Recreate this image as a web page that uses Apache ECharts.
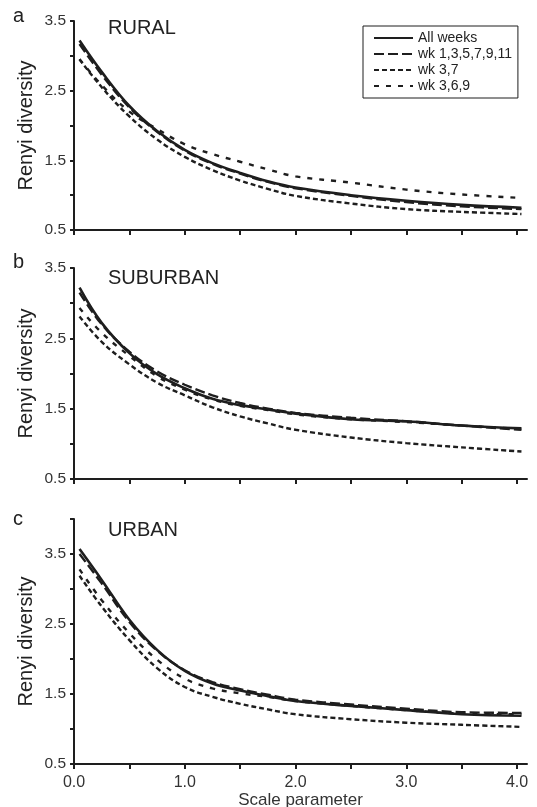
<!DOCTYPE html>
<html>
<head>
<meta charset="utf-8">
<script src="https://cdn.jsdelivr.net/npm/echarts@6/dist/echarts.min.js"></script>
<style>
  html, body { margin: 0; padding: 0; background: #fff; }
  #chart { width: 537px; height: 807px; }
</style>
</head>
<body>
<div id="chart"></div>
<script>
// scale parameter values (x)
const scaleParam = [0.05, 0.25, 0.5, 0.75, 1.0, 1.25, 1.5, 1.75, 2.0, 2.5, 3.0, 3.5, 4.04];

// RURAL
const ruralAll   = [3.22, 2.77, 2.28, 1.92, 1.65, 1.46, 1.32, 1.20, 1.11, 1.00, 0.92, 0.86, 0.82];
const ruralOdd   = [3.17, 2.73, 2.26, 1.91, 1.64, 1.45, 1.31, 1.19, 1.10, 0.99, 0.90, 0.84, 0.80];
const rural37    = [2.95, 2.55, 2.13, 1.80, 1.55, 1.36, 1.21, 1.09, 0.99, 0.88, 0.80, 0.76, 0.73];
const rural369   = [2.95, 2.58, 2.20, 1.95, 1.73, 1.59, 1.48, 1.37, 1.27, 1.18, 1.08, 1.01, 0.96];

// SUBURBAN
const suburbAll  = [3.22, 2.72, 2.29, 1.99, 1.79, 1.64, 1.55, 1.49, 1.43, 1.35, 1.32, 1.26, 1.22];
const suburbOdd  = [3.15, 2.70, 2.31, 2.03, 1.84, 1.69, 1.58, 1.50, 1.44, 1.37, 1.32, 1.26, 1.20];
const suburb37   = [2.81, 2.45, 2.13, 1.87, 1.69, 1.52, 1.39, 1.29, 1.20, 1.09, 1.01, 0.95, 0.89];
const suburb369  = [2.93, 2.58, 2.25, 1.96, 1.77, 1.63, 1.54, 1.48, 1.42, 1.35, 1.31, 1.26, 1.21];

// URBAN
const urbanAll   = [3.57, 3.13, 2.56, 2.13, 1.83, 1.65, 1.55, 1.47, 1.40, 1.33, 1.27, 1.21, 1.19];
const urbanOdd   = [3.50, 3.08, 2.53, 2.12, 1.84, 1.67, 1.57, 1.49, 1.42, 1.35, 1.29, 1.24, 1.23];
const urban37    = [3.19, 2.75, 2.27, 1.87, 1.60, 1.46, 1.36, 1.28, 1.21, 1.14, 1.09, 1.06, 1.03];
const urban369   = [3.28, 2.84, 2.37, 1.99, 1.72, 1.58, 1.51, 1.46, 1.40, 1.33, 1.27, 1.22, 1.21];

const seriesNames = ['All weeks', 'wk 1,3,5,7,9,11', 'wk 3,7', 'wk 3,6,9'];
const panelTitles = ['RURAL', 'SUBURBAN', 'URBAN'];
const panelLetters = ['a', 'b', 'c'];
const xTicks = [0, 0.5, 1, 1.5, 2, 2.5, 3, 3.5, 4];
const xLabels = [0, 1, 2, 3, 4];
const yLabels = [0.5, 1.5, 2.5, 3.5];
const yMax = [3.5, 3.5, 4.0];

const panels = [
  [ruralAll, ruralOdd, rural37, rural369],
  [suburbAll, suburbOdd, suburb37, suburb369],
  [urbanAll, urbanOdd, urban37, urban369]
];

const ink = '#1e1e1e';
const font = 'Liberation Sans, Arial, sans-serif';
// 每条线的样式
const lineTypes = ['solid', [10, 4], [5, 3], [5, 7]];

const grids = [
  { left: 74, top: 21, width: 453, height: 209 },
  { left: 74, top: 268, width: 453, height: 211 },
  { left: 74, top: 519, width: 453, height: 245 }
].map(g => Object.assign({ outerBoundsMode: 'none', containLabel: false }, g));

const xAxes = grids.map((g, i) => ({
  type: 'value',
  gridIndex: i,
  min: 0,
  max: 4.09,
  name: i === 2 ? 'Scale parameter' : '',
  nameLocation: 'middle',
  nameGap: 28,
  nameMoveOverlap: false,
  nameTextStyle: { fontFamily: font, fontSize: 17, color: '#333' },
  axisLine: { show: true, onZero: false, lineStyle: { color: ink, width: 2 } },
  axisTick: { show: true, length: 5, lineStyle: { color: ink, width: 2 }, customValues: xTicks },
  axisLabel: {
    show: i === 2,
    customValues: xLabels,
    margin: 11,
    fontFamily: font, fontSize: 16, color: '#333',
    formatter: v => v.toFixed(1)
  },
  splitLine: { show: false }
}));

const yAxes = grids.map((g, i) => ({
  type: 'value',
  gridIndex: i,
  min: 0.5,
  max: yMax[i],
  interval: 0.5,
  name: 'Renyi diversity',
  nameLocation: 'middle',
  nameGap: 38,
  nameMoveOverlap: false,
  nameTextStyle: { fontFamily: font, fontSize: 20, color: '#222' },
  axisLine: { show: true, lineStyle: { color: ink, width: 2 } },
  axisTick: { show: true, length: 4, lineStyle: { color: ink, width: 2 } },
  axisLabel: {
    customValues: yLabels,
    margin: 8,
    fontFamily: font, fontSize: 15.5, color: '#333',
    formatter: v => v.toFixed(1)
  },
  splitLine: { show: false }
}));

const series = [];
panels.forEach((sets, p) => {
  sets.forEach((vals, k) => {
    series.push({
      name: seriesNames[k],
      type: 'line',
      xAxisIndex: p,
      yAxisIndex: p,
      data: scaleParam.map((x, j) => [x, vals[j]]),
      smooth: 0.4,
      showSymbol: false,
      symbol: 'none',
      silent: true,
      z: 10 - k,
      lineStyle: { color: ink, width: k === 0 ? 2.6 : 2.4, type: lineTypes[k] },
      itemStyle: { color: ink }
    });
  });
});

const titles = [];
const titleTops = [18, 268, 520];
const letterTops = [6, 252, 509];
panelTitles.forEach((t, i) => {
  titles.push({ text: t, left: 108, top: titleTops[i], padding: 0,
    textStyle: { fontFamily: font, fontSize: 20, fontWeight: 'normal', color: '#222' } });
  titles.push({ text: panelLetters[i], left: 13, top: letterTops[i], padding: 0,
    textStyle: { fontFamily: font, fontSize: 20, fontWeight: 'normal', color: '#222' } });
});

const chart = echarts.init(document.getElementById('chart'), null, { renderer: 'canvas' });
chart.setOption({
  animation: false,
  backgroundColor: '#fff',
  title: titles,
  legend: {
    data: seriesNames,
    orient: 'vertical',
    left: 363,
    top: 26,
    padding: [4, 6, 4, 10],
    itemWidth: 39,
    itemHeight: 12,
    itemGap: 0,
    borderColor: ink,
    borderWidth: 1,
    borderRadius: 0,
    selectedMode: false,
    itemStyle: { opacity: 0 },
    textStyle: { fontFamily: font, fontSize: 14, lineHeight: 16, color: '#222' }
  },
  grid: grids,
  xAxis: xAxes,
  yAxis: yAxes,
  series: series
});
</script>
</body>
</html>
